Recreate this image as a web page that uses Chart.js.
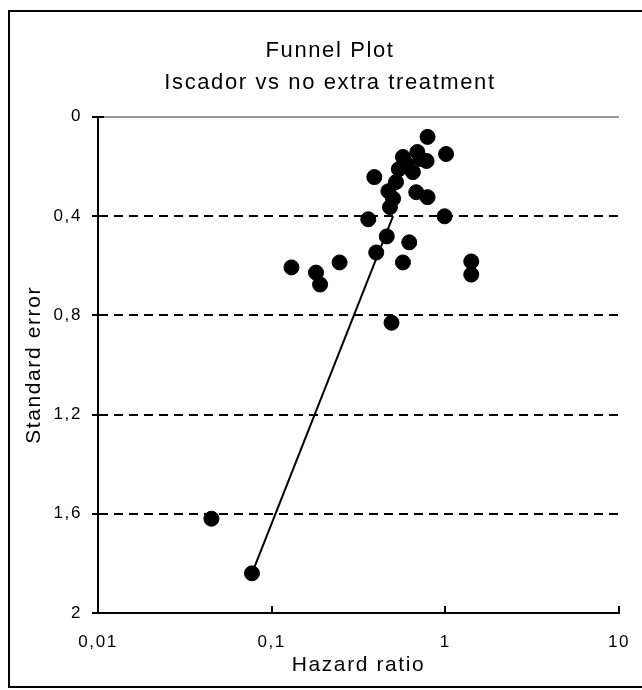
<!DOCTYPE html>
<html><head><meta charset="utf-8">
<script src="https://cdn.jsdelivr.net/npm/chart.js@4.4.1/dist/chart.umd.min.js"></script>
<style>html,body{margin:0;padding:0;background:#fff;overflow:hidden}canvas{display:block}</style>
</head><body>
<canvas id="c" width="642" height="690"></canvas>
<script>
const titleLines = ["Funnel Plot", "Iscador vs no extra treatment"];
const xAxisTitle = "Hazard ratio";
const yAxisTitle = "Standard error";
const xTickValues = [0.01, 0.1, 1, 10];
const xTickLabels = ["0,01", "0,1", "1", "10"];
const yTickValues = [0, 0.4, 0.8, 1.2, 1.6, 2];
const yTickLabels = ["0", "0,4", "0,8", "1,2", "1,6", "2"];

const hazardRatio = [0.79, 1.01, 0.39, 0.57, 0.69, 0.78, 0.54, 0.65, 0.52, 0.68, 0.79, 0.48, 0.50,
  0.36, 0.99, 0.46, 0.62, 0.40, 0.57, 1.41, 1.41, 0.13, 0.18, 0.19, 0.246, 0.49, 0.045, 0.077,
  0.60, 0.72, 0.47];
const standardError = [0.081, 0.150, 0.243, 0.162, 0.142, 0.178, 0.211, 0.223, 0.263, 0.304, 0.324, 0.364, 0.33,
  0.413, 0.401, 0.482, 0.506, 0.547, 0.587, 0.583, 0.636, 0.607, 0.628, 0.676, 0.587, 0.830, 1.62, 1.84,
  0.19, 0.17, 0.30];

const lineHR = [0.077, 0.50];
const lineSE = [1.84, 0.40];

const FONT = "'Liberation Sans', Arial, sans-serif";

const frame = {
  id: 'frame',
  beforeUpdate(chart) { chart.ctx.letterSpacing = '1.6px'; },
  beforeDraw(chart) {
    const ctx = chart.ctx;
    ctx.letterSpacing = '1.6px';
    ctx.save();
    ctx.fillStyle = '#fff';
    ctx.fillRect(0, 0, chart.width, chart.height);
    ctx.strokeStyle = '#000';
    ctx.lineWidth = 2;
    ctx.strokeRect(9, 11, 700, 676);
    ctx.restore();
  },
  afterDraw(chart) {
    const ctx = chart.ctx;
    const x = chart.scales.x, y = chart.scales.y;
    ctx.save();
    ctx.strokeStyle = '#000';
    ctx.lineWidth = 2;
    ctx.beginPath();
    yTickValues.forEach(v => {
      const py = Math.round(y.getPixelForValue(v));
      ctx.moveTo(x.left, py); ctx.lineTo(x.left + 6, py);
    });
    xTickValues.slice(1).forEach(v => {
      const px = Math.round(x.getPixelForValue(v));
      ctx.moveTo(px, y.bottom); ctx.lineTo(px, y.bottom - 7);
    });
    ctx.stroke();
    ctx.restore();
  }
};

new Chart(document.getElementById('c'), {
  type: 'scatter',
  data: {
    datasets: [
      {
        type: 'line',
        data: lineHR.map((v, i) => ({x: v, y: lineSE[i]})),
        borderColor: '#000',
        borderWidth: 2,
        pointRadius: 0,
        fill: false,
        order: 2
      },
      {
        data: hazardRatio.map((v, i) => ({x: v, y: standardError[i]})),
        backgroundColor: '#000',
        borderColor: '#000',
        pointRadius: 7.5,
        pointStyle: 'circle',
        order: 1
      }
    ]
  },
  options: {
    responsive: false,
    animation: false,
    devicePixelRatio: 1,
    layout: {padding: {left: 18, right: 0, top: 10, bottom: 0}},
    plugins: {
      legend: {display: false},
      tooltip: {enabled: false},
      title: {
        display: true,
        text: titleLines,
        color: '#000',
        font: {family: FONT, size: 22, weight: 'normal', lineHeight: 1.45},
        padding: {top: 25, bottom: 18}
      }
    },
    scales: {
      x: {
        type: 'logarithmic',
        min: 0.01, max: 10,
        afterBuildTicks: s => { s.ticks = xTickValues.map(v => ({value: v})); },
        afterFit: s => { s.height = 77; },
        ticks: {
          color: '#000',
          font: {family: FONT, size: 17},
          padding: 3,
          maxRotation: 0,
          autoSkip: false,
          callback: (v) => { const i = xTickValues.indexOf(v); return i >= 0 ? xTickLabels[i] : ''; }
        },
        grid: {display: true, drawOnChartArea: false, drawTicks: true, tickLength: 16, tickColor: 'rgba(0,0,0,0)'},
        border: {display: true, color: '#000', width: 2},
        title: {display: true, text: xAxisTitle, color: '#000', font: {family: FONT, size: 21}, padding: {top: 0, bottom: 12}}
      },
      y: {
        type: 'linear',
        reverse: true,
        min: 0, max: 2,
        afterBuildTicks: s => { s.ticks = yTickValues.map(v => ({value: v})); },
        afterFit: s => { s.width = 80; },
        ticks: {
          color: '#000',
          font: {family: FONT, size: 17},
          padding: 10,
          callback: (v) => { const i = yTickValues.findIndex(t => Math.abs(t - v) < 1e-9); return i >= 0 ? yTickLabels[i] : ''; }
        },
        grid: {
          drawOnChartArea: true,
          drawTicks: true,
          tickLength: 6,
          tickColor: '#000',
          tickWidth: 2,
          lineWidth: 2,
          color: ctx => {
            const v = ctx.tick ? ctx.tick.value : null;
            if (v === 0) return '#9a9a9a';
            if (v === 2) return 'rgba(0,0,0,0)';
            return '#000';
          }
        },
        border: {
          display: true, color: '#000', width: 2,
          dash: ctx => (ctx.tick && ctx.tick.value === 0) ? [] : [9, 6]
        },
        title: {display: true, text: yAxisTitle, color: '#000', font: {family: FONT, size: 21}, padding: {top: 4, bottom: 0}}
      },
      y2: {
        position: 'right',
        display: true,
        min: 0, max: 1,
        afterFit: s => { s.width = 23; },
        ticks: {display: false},
        grid: {display: false, drawTicks: false},
        border: {display: false}
      }
    }
  },
  plugins: [frame]
});
</script>
</body></html>
